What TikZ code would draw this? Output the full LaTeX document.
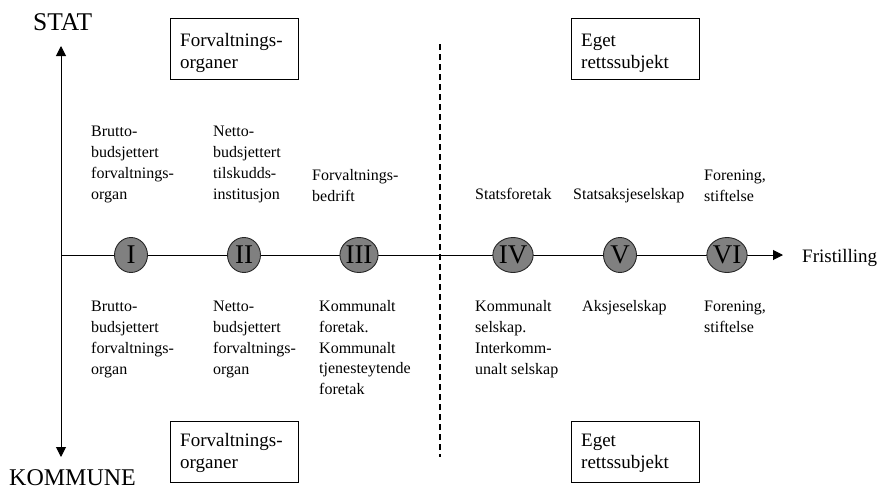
\documentclass[tikz,border=0pt]{standalone}
\usepackage{fontspec}
\setmainfont{Liberation Serif}
\usetikzlibrary{arrows.meta,shapes.geometric}
\definecolor{circfill}{HTML}{808080}
\begin{document}
\begin{tikzpicture}[x=1pt,y=-1pt,
  axis/.style={line width=1pt,draw=black},
  tip/.style={-{Triangle[length=10pt,width=10pt]}},
  numcirc/.style={ellipse,draw=black!85,line width=0.9pt,fill=circfill,minimum width=33pt,minimum height=35pt,inner sep=0pt,font=\fontsize{27}{27}\selectfont},
  lbl/.style={align=left,inner sep=0pt,anchor=base west,font=\fontsize{16}{20.8}\selectfont},
  boxframe/.style={draw=black,line width=0.8pt,anchor=north west,minimum width=128pt,minimum height=61pt,inner sep=0pt},
  boxtxt/.style={align=left,inner sep=0pt,anchor=base west,font=\fontsize{19}{21.5}\selectfont},
  bigtxt/.style={inner sep=0pt,anchor=base west,font=\fontsize{24}{24}\selectfont},
  divider/.style={line width=2pt,dash pattern=on 6pt off 4pt}
]
\useasboundingbox (0,0) rectangle (879,488);
% axes
\coordinate (vt) at (61,46);
\coordinate (vb) at (61,457);
\coordinate (hs) at (61,255);
\coordinate (he) at (783,255);
\draw[axis,tip] (hs) -- (he);
\draw[axis,{Triangle[length=10pt,width=10pt]}-{Triangle[length=10pt,width=10pt]}] (vb) -- (vt);
% divider
\coordinate (dt) at (440,44);
\coordinate (db) at (440,457);
\draw[divider] (dt) -- (db);
% circles
\node[numcirc] (c1) at (131,255) {I};
\node[numcirc] (c2) at (244,255) {II};
\node[numcirc] (c3) at (359,255) {III};
\node[numcirc] (c4) at (513,255) {IV};
\node[numcirc] (c5) at (620,255) {V};
\node[numcirc] (c6) at (727,255) {VI};
% axis labels
\node[bigtxt,font=\fontsize{25.5}{25.5}\selectfont] (stat) at (33,30) {STAT};
\node[bigtxt] (kom) at (9,485.5) {KOMMUNE};
\node[inner sep=0pt,anchor=base west,font=\fontsize{19}{19}\selectfont] (fri) at (802,262) {Fristilling};
% boxes
\node[boxframe] (b1) at (170,18) {};
\node[boxtxt] (b1t) at (180,68) {Forvaltnings-\\organer};
\node[boxframe] (b2) at (571,18) {};
\node[boxtxt] (b2t) at (581,68) {Eget\\rettssubjekt};
\node[boxframe] (b3) at (170,421) {};
\node[boxtxt] (b3t) at (180,468) {Forvaltnings-\\organer};
\node[boxframe] (b4) at (571,421) {};
\node[boxtxt] (b4t) at (581,468) {Eget\\rettssubjekt};
% top labels (anchored at last baseline)
\node[lbl] (t1) at (91,199) {Brutto-\\budsjettert\\forvaltnings-\\organ};
\node[lbl] (t2) at (213,199) {Netto-\\budsjettert\\tilskudds-\\institusjon};
\node[lbl] (t3) at (312,201.5) {Forvaltnings-\\bedrift};
\node[lbl] (t4) at (475,199.5) {Statsforetak};
\node[lbl] (t5) at (573,199.5) {Statsaksjeselskap};
\node[lbl] (t6) at (704,201.5) {Forening,\\stiftelse};
% bottom labels (anchored at last baseline)
\node[lbl] (u1) at (91,374) {Brutto-\\budsjettert\\forvaltnings-\\organ};
\node[lbl] (u2) at (213,374) {Netto-\\budsjettert\\forvaltnings-\\organ};
\node[lbl] (u3) at (319,394.7) {Kommunalt\\foretak.\\Kommunalt\\tjenesteytende\\foretak};
\node[lbl] (u4) at (475,374) {Kommunalt\\selskap.\\Interkomm-\\unalt selskap};
\node[lbl] (u5) at (582,311.5) {Aksjeselskap};
\node[lbl] (u6) at (704,332.3) {Forening,\\stiftelse};
\end{tikzpicture}
\end{document}
